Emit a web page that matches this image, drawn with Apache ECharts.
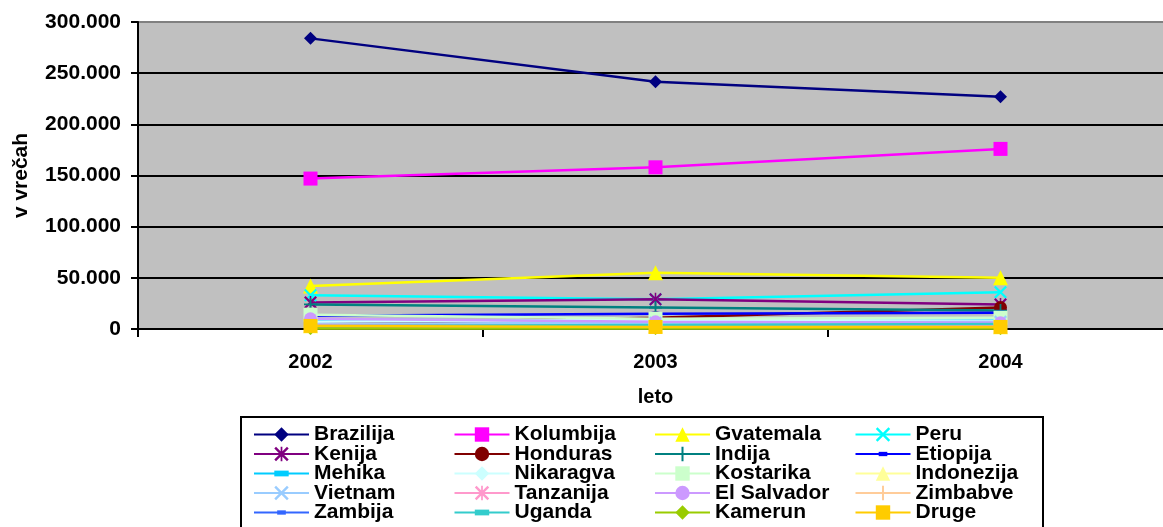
<!DOCTYPE html>
<html>
<head>
<meta charset="utf-8">
<script src="https://cdn.jsdelivr.net/npm/echarts@6/dist/echarts.min.js"></script>
<style>
html,body{margin:0;padding:0;background:#fff;overflow:hidden;}
#c{width:1173px;height:527px;}
</style>
</head>
<body>
<div id="c"></div>
<script>
const years = ['2002', '2003', '2004'];
const seriesNames = ['Brazilija','Kolumbija','Gvatemala','Peru','Kenija','Honduras','Indija','Etiopija','Mehika','Nikaragva','Kostarika','Indonezija','Vietnam','Tanzanija','El Salvador','Zimbabve','Zambija','Uganda','Kamerun','Druge'];
const brazilija  = [284000, 241500, 227000];
const kolumbija  = [147000, 158000, 176000];
const gvatemala  = [42000, 55000, 50000];
const peru       = [33000, 29000, 36000];
const kenija     = [26000, 29000, 24000];
const honduras   = [5000, 11000, 21000];
const indija     = [24000, 21000, 18000];
const etiopija   = [13000, 15000, 16000];
const mehika     = [9000, 8000, 9000];
const nikaragva  = [7000, 9000, 8000];
const kostarika  = [14000, 10000, 11000];
const indonezija = [3000, 3000, 2000];
const vietnam    = [5000, 6000, 7000];
const tanzanija  = [4000, 3000, 3000];
const elSalvador = [10000, 7000, 6000];
const zimbabve   = [1000, 1000, 1000];
const zambija    = [1500, 1000, 1000];
const uganda     = [3000, 4000, 5000];
const kamerun    = [500, 500, 500];
const druge      = [3000, 2000, 2000];
const yTicks = [0, 50000, 100000, 150000, 200000, 250000, 300000];

const values = [brazilija,kolumbija,gvatemala,peru,kenija,honduras,indija,etiopija,mehika,nikaragva,kostarika,indonezija,vietnam,tanzanija,elSalvador,zimbabve,zambija,uganda,kamerun,druge];

const X_PATH = 'path://M0,1.2 L1.2,0 L5,3.8 L8.8,0 L10,1.2 L6.2,5 L10,8.8 L8.8,10 L5,6.2 L1.2,10 L0,8.8 L3.8,5 Z';
const PLUS_PATH = 'path://M4.3,0 L5.7,0 L5.7,4.3 L10,4.3 L10,5.7 L5.7,5.7 L5.7,10 L4.3,10 L4.3,5.7 L0,5.7 L0,4.3 L4.3,4.3 Z';
const AST_PATH = 'path://M0,1.2 L1.2,0 L5,3.8 L8.8,0 L10,1.2 L6.2,5 L10,8.8 L8.8,10 L5,6.2 L1.2,10 L0,8.8 L3.8,5 Z M4.4,0 L5.6,0 L5.6,10 L4.4,10 Z';
const DASH_PATH = 'path://M0,0 M10,10 M0,3 L10,3 L10,7 L0,7 Z';
const SDASH_PATH = 'path://M0,0 M10,10 M2,3.5 L8,3.5 L8,6.5 L2,6.5 Z';

const styles = [
  ['#000080','diamond',13],
  ['#FF00FF','rect',14],
  ['#FFFF00','triangle',15],
  ['#00FFFF',X_PATH,13],
  ['#800080',AST_PATH,13],
  ['#800000','circle',13],
  ['#008080',PLUS_PATH,13],
  ['#0000FF',SDASH_PATH,13],
  ['#00CCFF',DASH_PATH,13],
  ['#CCFFFF','diamond',13],
  ['#CCFFCC','rect',14],
  ['#FFFF99','triangle',15],
  ['#99CCFF',X_PATH,13],
  ['#FF99CC',AST_PATH,13],
  ['#CC99FF','circle',13],
  ['#FFCC99',PLUS_PATH,13],
  ['#3366FF',SDASH_PATH,13],
  ['#33CCCC',DASH_PATH,13],
  ['#99CC00','diamond',13],
  ['#FFCC00','rect',14]
];

const FONT = '"Liberation Sans", Arial, sans-serif';

const series = seriesNames.map((n, i) => ({
  name: n,
  type: 'line',
  data: values[i],
  symbol: styles[i][1],
  symbolSize: styles[i][2],
  showAllSymbol: true,
  lineStyle: { color: styles[i][0], width: 2.5 },
  itemStyle: { color: styles[i][0] },
  emphasis: { disabled: true },
  animation: false
}));

const chart = echarts.init(document.getElementById('c'));
chart.setOption({
  animation: false,
  grid: {
    left: 138, top: 22, right: 0, height: 307,
    show: true, backgroundColor: '#C0C0C0', borderWidth: 0
  },
  xAxis: {
    type: 'category',
    data: years,
    boundaryGap: true,
    name: 'leto',
    nameLocation: 'middle',
    nameGap: 58,
    nameTextStyle: { fontFamily: FONT, fontWeight: 'bold', fontSize: 20, color: '#000' },
    axisLine: { lineStyle: { color: '#000', width: 2 } },
    axisTick: { show: true, length: 8, lineStyle: { color: '#000', width: 2 }, alignWithLabel: false },
    axisLabel: { fontFamily: FONT, fontWeight: 'bold', fontSize: 20, color: '#000', margin: 23 },
    splitLine: { show: false }
  },
  yAxis: {
    type: 'value',
    min: yTicks[0],
    max: yTicks[yTicks.length - 1],
    interval: 50000,
    name: 'v vrečah',
    nameLocation: 'middle',
    nameRotate: 90,
    nameGap: 106,
    nameTextStyle: { fontFamily: FONT, fontWeight: 'bold', fontSize: 21, color: '#000' },
    axisLine: { show: true, lineStyle: { color: '#000', width: 2 } },
    axisTick: { show: true, length: 7, lineStyle: { color: '#000', width: 2 } },
    axisLabel: {
      fontFamily: FONT, fontWeight: 'bold', fontSize: 21, color: '#000', margin: 17,
      formatter: v => v === 0 ? '0' : String(v).replace(/\B(?=(\d{3})+(?!\d))/g, '.')
    },
    splitLine: { show: true, lineStyle: { color: ['#000','#000','#000','#000','#000','#000','#808080'], width: 2 } }
  },
  legend: {
    left: 240, top: 417,
    width: 820,
    orient: 'horizontal',
    padding: [7, 10, 6, 13],
    borderWidth: 0,
    itemWidth: 55, itemHeight: 18, itemGap: -1.5,
    textStyle: { fontFamily: FONT, fontWeight: 'bold', fontSize: 21, color: '#000', width: 141, lineHeight: 18, padding: [0,0,0,0] },
    data: seriesNames
  },
  graphic: [{
    type: 'rect',
    shape: { x: 241, y: 417, width: 802, height: 112 },
    style: { fill: 'none', stroke: '#000', lineWidth: 2 },
    silent: true, z: 100
  }],
  series: series
});
</script>
</body>
</html>
